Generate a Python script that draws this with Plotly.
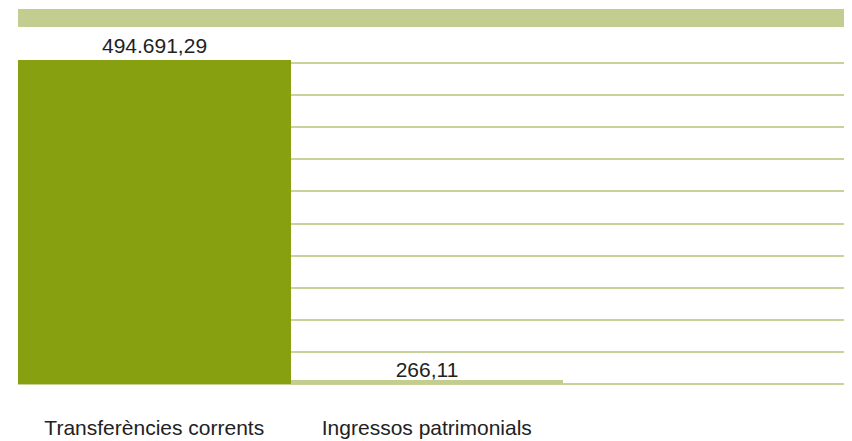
import plotly.graph_objects as go

# data
categories = ["Transferències corrents", "Ingressos patrimonials"]
values = [494691.29, 266.11]

bar_colors = ["#87a00f", "#c3cd8f"]
line_widths = [0, 8]  # keeps the tiny second bar visible
grid_color = "#c8d39b"
band_color = "#c3cd8f"

fig = go.Figure()

fig.add_trace(go.Bar(
    x=categories,
    y=values,
    marker=dict(color=bar_colors, line=dict(color=bar_colors, width=line_widths)),
    texttemplate="%{y:,.2f}",
    textposition="outside",
    textfont=dict(size=21, color="#222222"),
    cliponaxis=False,
    showlegend=False,
))

# light green band on top of the chart
fig.add_shape(
    type="rect", xref="paper", yref="paper",
    x0=0, x1=1, y0=1.0378, y1=1.0901,
    fillcolor=band_color, line=dict(width=0), layer="below",
)

# page body adds an 8px offset, size and margins compensate for it
fig.update_layout(
    width=844,
    height=433,
    margin=dict(l=10, r=0, t=32, b=57),
    bargap=0,
    separators=",.",
    paper_bgcolor="white",
    plot_bgcolor="white",
    font=dict(family="Liberation Sans, Arial, sans-serif", size=21, color="#222222"),
    xaxis=dict(
        type="category",
        range=[-0.5, 2.56],
        showgrid=False,
        showline=False,
        ticks="outside",
        ticklen=25,
        tickcolor="rgba(0,0,0,0)",
        tickfont=dict(size=21, color="#222222"),
    ),
    yaxis=dict(
        range=[0, 525219],
        dtick=49010,
        showgrid=True,
        gridcolor=grid_color,
        gridwidth=1.5,
        zeroline=True,
        zerolinecolor=grid_color,
        zerolinewidth=1.5,
        showticklabels=False,
        ticks="",
    ),
)

fig.write_html("out.html")
